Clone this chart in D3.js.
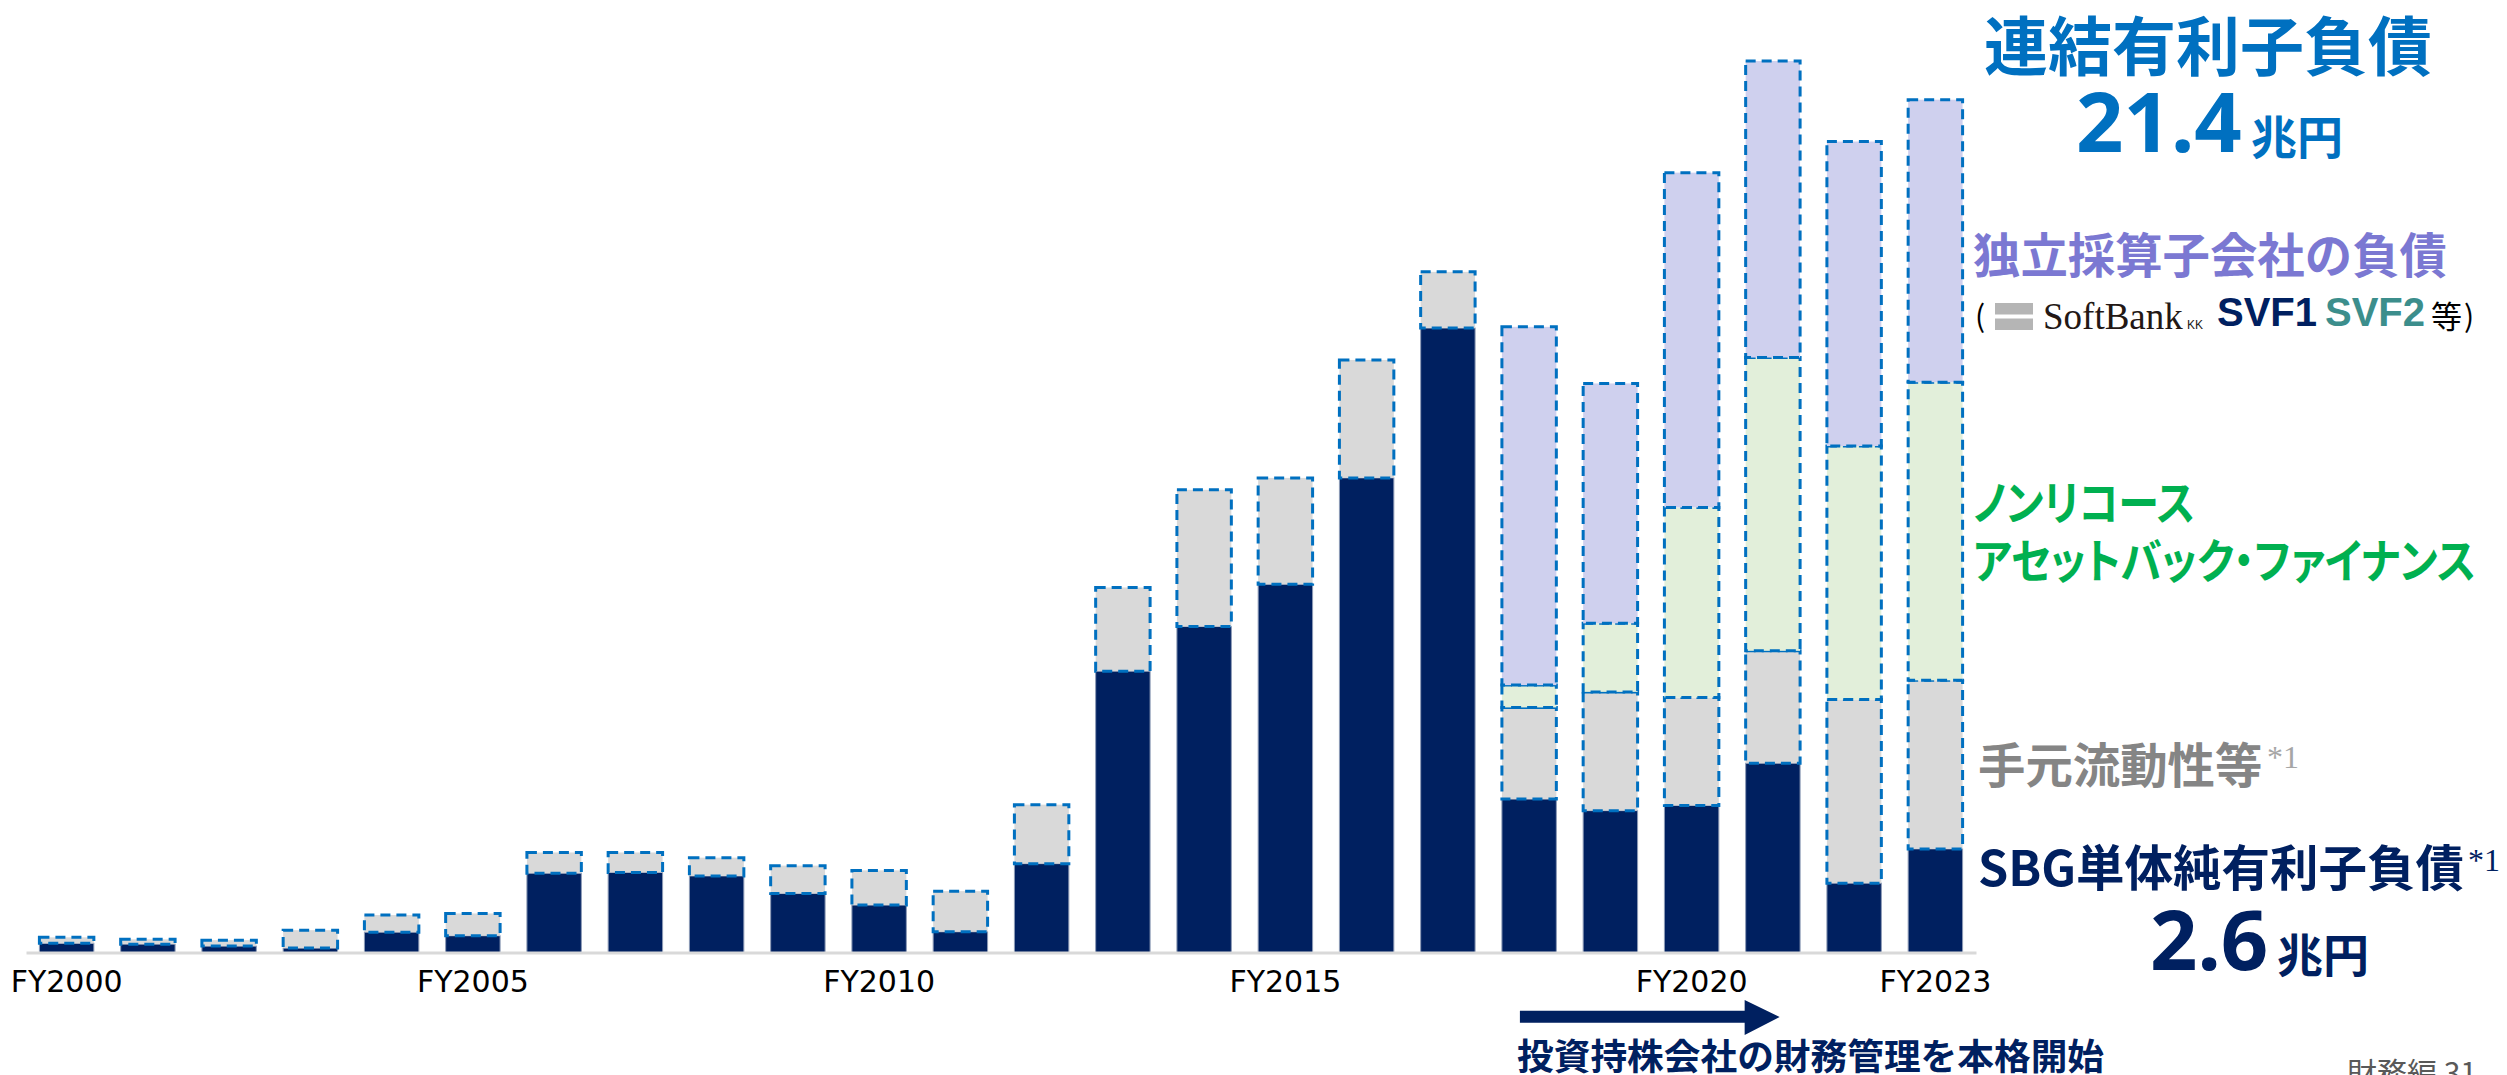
<!DOCTYPE html>
<html>
<head>
<meta charset="utf-8">
<script src="https://cdn.jsdelivr.net/npm/d3@7"></script>
<style>
  html, body { margin: 0; padding: 0; background: #ffffff; }
  svg { display: block; }
  .jp { font-family: "Noto Sans CJK JP", "Noto Sans", sans-serif; }
  .prop { font-feature-settings: "palt" 1; }
</style>
</head>
<body>
<svg id="chart" width="2507" height="1075"></svg>
<script>
// Fiscal years on the x axis
const years = ["FY2000","FY2001","FY2002","FY2003","FY2004","FY2005","FY2006","FY2007",
               "FY2008","FY2009","FY2010","FY2011","FY2012","FY2013","FY2014","FY2015",
               "FY2016","FY2017","FY2018","FY2019","FY2020","FY2021","FY2022","FY2023"];
const tickLabels = ["FY2000","FY2005","FY2010","FY2015","FY2020","FY2023"];

// Values in 兆円
// SBG単体純有利子負債
const sbgNetDebt = [0.23,0.21,0.16,0.11,0.51,0.42,1.99,2.01,1.92,1.48,1.19,0.52,
                    2.23,7.06,8.18,9.24,11.91,15.67,3.85,3.56,3.69,4.75,1.74,2.6];
// 手元流動性等
const liquidity  = [0.15,0.12,0.15,0.45,0.43,0.56,0.52,0.50,0.46,0.70,0.87,1.02,
                    1.48,2.10,3.43,2.67,2.96,1.41,2.30,2.98,2.71,2.82,4.61,4.23];
// ノンリコース・アセットバック・ファイナンス
const nonRecourse = [0,0,0,0,0,0,0,0,0,0,0,0,
                     0,0,0,0,0,0,0.56,1.72,4.77,7.36,6.36,7.48];
// 独立採算子会社の負債
const subsidiaryDebt = [0,0,0,0,0,0,0,0,0,0,0,0,
                        0,0,0,0,0,0,8.99,6.02,8.40,7.44,7.64,7.09];

const totalLabel = "21.4";   // 連結有利子負債 FY2023
const netLabel = "2.6";      // SBG単体純有利子負債 FY2023

const svg = d3.select("#chart");

const rows = years.map((yr, i) => ({
  year: yr,
  net: sbgNetDebt[i],
  liq: liquidity[i],
  nr: nonRecourse[i],
  sub: subsidiaryDebt[i]
}));
const keys = ["net", "liq", "nr", "sub"];
const layers = d3.stack().keys(keys)(rows);

const x = d3.scaleBand()
  .domain(years)
  .range([26, 1976])
  .paddingInner(0.33)
  .paddingOuter(0.165);

const y = d3.scaleLinear()
  .domain([0, 20])
  .range([952.5, 155.5]);

const fills = { net: "#002060", liq: "#D9D9D9", nr: "#E2EFDA", sub: "#CFD0EE" };

// stacked segments, bottom layer first so upper outlines sit on top
layers.forEach(layer => {
  const key = layer.key;
  const g = svg.append("g").attr("class", "layer-" + key);
  g.selectAll("rect")
    .data(layer.filter(d => d[1] - d[0] > 0))
    .join("rect")
    .attr("x", d => x(d.data.year))
    .attr("width", x.bandwidth())
    .attr("y", d => y(d[1]))
    .attr("height", d => y(d[0]) - y(d[1]))
    .attr("fill", fills[key])
    .attr("stroke", key === "net" ? "#8D9BB6" : "#0070C0")
    .attr("stroke-width", key === "net" ? 1 : 3)
    .attr("stroke-dasharray", key === "net" ? null : "10 6");
});

// x axis
const axis = svg.append("g")
  .attr("transform", "translate(0,952.5)")
  .call(d3.axisBottom(x).tickValues(tickLabels).tickSize(0).tickSizeOuter(0).tickPadding(18));
axis.select(".domain").attr("stroke", "#D9D9D9").attr("stroke-width", 3);
axis.selectAll("text")
  .attr("font-family", "DejaVu Sans, sans-serif")
  .attr("font-size", 30)
  .attr("fill", "#000000");

// annotation arrow
const ax0 = x("FY2018") + 18, ax1 = x("FY2021") + 34;
const headW = 35;
svg.append("path")
  .attr("d", `M${ax0},1010.7 L${ax1 - headW},1010.7 L${ax1 - headW},1000 L${ax1},1017 ` +
             `L${ax1 - headW},1035 L${ax1 - headW},1022.7 L${ax0},1022.7 Z`)
  .attr("fill", "#002060");
svg.append("text").attr("class", "jp")
  .attr("x", 1517).attr("y", 1054)
  .attr("dominant-baseline", "central")
  .attr("font-size", 36.7).attr("font-weight", 700).attr("fill", "#002060")
  .text("投資持株会社の財務管理を本格開始");

// right-hand labels
const lab = svg.append("g");

lab.append("text").attr("class", "jp")
  .attr("x", 1984).attr("y", 42).attr("dominant-baseline", "central")
  .attr("font-size", 64).attr("font-weight", 700).attr("fill", "#0070C0")
  .text("連結有利子負債");

lab.append("text")
  .attr("x", 2076).attr("y", 152)
  .attr("font-family", "Noto Sans, sans-serif")
  .attr("font-size", 83).attr("font-weight", 700).attr("fill", "#0070C0")
  .text(totalLabel);
lab.append("text").attr("class", "jp")
  .attr("x", 2251).attr("y", 134).attr("dominant-baseline", "central")
  .attr("font-size", 46).attr("font-weight", 700).attr("fill", "#0070C0")
  .text("兆円");

lab.append("text").attr("class", "jp")
  .attr("x", 1973).attr("y", 252).attr("dominant-baseline", "central")
  .attr("font-size", 47.4).attr("font-weight", 700).attr("fill", "#7B78D2")
  .text("独立採算子会社の負債");

// (SoftBank KK SVF1 SVF2 等)
lab.append("text").attr("class", "jp")
  .attr("x", 1975).attr("y", 314).attr("dominant-baseline", "central")
  .attr("font-size", 30).attr("fill", "#000000").text("(");
lab.append("rect").attr("x", 1995).attr("y", 303).attr("width", 38).attr("height", 11.5).attr("fill", "#B5B5B5");
lab.append("rect").attr("x", 1995).attr("y", 318.5).attr("width", 38).attr("height", 11.5).attr("fill", "#B5B5B5");
lab.append("text")
  .attr("x", 2043).attr("y", 329)
  .attr("font-family", "Liberation Serif, serif")
  .attr("font-size", 37).attr("fill", "#231815").text("SoftBank");
lab.append("text")
  .attr("x", 2187).attr("y", 329)
  .attr("font-family", "Liberation Sans, sans-serif")
  .attr("font-size", 12).attr("fill", "#231815").text("KK");
lab.append("text")
  .attr("x", 2217).attr("y", 326)
  .attr("font-family", "Liberation Sans, sans-serif")
  .attr("font-size", 40).attr("font-weight", 700).attr("fill", "#002060").text("SVF1");
lab.append("text")
  .attr("x", 2325).attr("y", 326)
  .attr("font-family", "Liberation Sans, sans-serif")
  .attr("font-size", 40).attr("font-weight", 700).attr("fill", "#3C8E8C").text("SVF2");
lab.append("text").attr("class", "jp")
  .attr("x", 2431).attr("y", 314).attr("dominant-baseline", "central")
  .attr("font-size", 31).attr("fill", "#000000").text("等");
lab.append("text").attr("class", "jp")
  .attr("x", 2464).attr("y", 314).attr("dominant-baseline", "central")
  .attr("font-size", 30).attr("fill", "#000000").text(")");

// two-line green label, proportional kana fitted to each line's width
lab.append("text").attr("class", "jp prop")
  .attr("x", 1973).attr("y", 499).attr("dominant-baseline", "central")
  .attr("font-size", 47).attr("font-weight", 700).attr("fill", "#00B050")
  .attr("textLength", 222).attr("lengthAdjust", "spacingAndGlyphs")
  .text("ノンリコース");
lab.append("text").attr("class", "jp prop")
  .attr("x", 1973).attr("y", 557).attr("dominant-baseline", "central")
  .attr("font-size", 47).attr("font-weight", 700).attr("fill", "#00B050")
  .attr("textLength", 503).attr("lengthAdjust", "spacingAndGlyphs")
  .text("アセットバック・ファイナンス");

lab.append("text").attr("class", "jp")
  .attr("x", 1978).attr("y", 762).attr("dominant-baseline", "central")
  .attr("font-size", 47.4).attr("font-weight", 700).attr("fill", "#858585")
  .text("手元流動性等");
lab.append("text")
  .attr("x", 2267).attr("y", 768)
  .attr("font-family", "Liberation Serif, serif")
  .attr("font-size", 32).attr("fill", "#A6A6A6").text("*1");

lab.append("text").attr("class", "jp")
  .attr("x", 1978).attr("y", 865).attr("dominant-baseline", "central")
  .attr("font-size", 48.5).attr("font-weight", 700).attr("fill", "#002060")
  .text("SBG単体純有利子負債");
lab.append("text")
  .attr("x", 2468).attr("y", 871)
  .attr("font-family", "Liberation Serif, serif")
  .attr("font-size", 32).attr("fill", "#002060").text("*1");

lab.append("text")
  .attr("x", 2150).attr("y", 970)
  .attr("font-family", "Noto Sans, sans-serif")
  .attr("font-size", 83).attr("font-weight", 700).attr("fill", "#002060")
  .text(netLabel);
lab.append("text").attr("class", "jp")
  .attr("x", 2277).attr("y", 952).attr("dominant-baseline", "central")
  .attr("font-size", 46).attr("font-weight", 700).attr("fill", "#002060")
  .text("兆円");

// page footer
lab.append("text").attr("class", "jp")
  .attr("x", 2347).attr("y", 1071).attr("dominant-baseline", "central")
  .attr("font-size", 30).attr("fill", "#595959")
  .text("財務編 31");
</script>
</body>
</html>
